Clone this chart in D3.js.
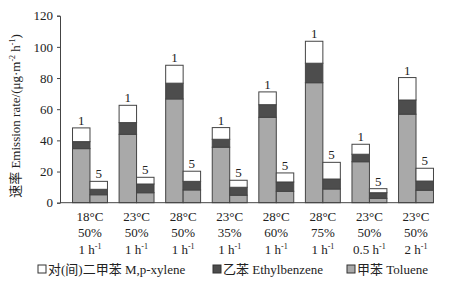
<!DOCTYPE html>
<html>
<head>
<meta charset="utf-8">
<script src="https://cdn.jsdelivr.net/npm/d3@7"></script>
<style>
  body { margin: 0; background: #fff; }
  text { font-family: "Liberation Serif", "Noto Sans CJK SC", serif; fill: #222; }
</style>
</head>
<body>
<div id="chart"></div>
<script>

// conditions (temperature / humidity / air change rate)
var temps = ["18°C", "23°C", "28°C", "23°C", "28°C", "28°C", "23°C", "23°C"];
var humid = ["50%", "50%", "50%", "35%", "60%", "75%", "50%", "50%"];
var ach   = ["1", "1", "1", "1", "1", "1", "0.5", "2"];
var dayLabels = ["1", "5"];

// emission rates, day 1
var toluene1 = [34.7, 43.9, 66.6, 35.6, 54.8, 77.0, 26.3, 56.8];
var ethyl1   = [4.5, 7.5, 10.1, 5.1, 8.1, 12.5, 4.8, 9.1];
var xylene1  = [8.8, 11.1, 11.5, 7.5, 8.2, 14.1, 6.4, 14.4];
// emission rates, day 5
var toluene5 = [5.1, 6.4, 8.2, 4.8, 7.3, 8.8, 2.8, 8.0];
var ethyl5   = [3.5, 5.6, 5.5, 5.1, 6.0, 6.4, 3.6, 5.9];
var xylene5  = [5.1, 4.3, 6.5, 4.5, 5.8, 10.7, 2.6, 8.2];

var yTicks = [0, 20, 40, 60, 80, 100, 120];
var keys = ["toluene", "ethyl", "xylene"];
var colors = { toluene: "#a9a9a9", ethyl: "#4d4d4d", xylene: "#ffffff" };

var data = [];
for (var i = 0; i < temps.length; i++) {
  data.push({ g: i, day: "1", toluene: toluene1[i], ethyl: ethyl1[i], xylene: xylene1[i] });
  data.push({ g: i, day: "5", toluene: toluene5[i], ethyl: ethyl5[i], xylene: xylene5[i] });
}

var width = 455, height = 291;
var svg = d3.select("#chart").append("svg")
  .attr("width", width)
  .attr("height", height);

var x0 = d3.scaleBand()
  .domain(d3.range(temps.length))
  .range([66.7, 439.3])
  .paddingInner(0.25)
  .paddingOuter(0.125);
var x1 = d3.scaleBand()
  .domain(dayLabels)
  .range([0, x0.bandwidth()]);
var y = d3.scaleLinear()
  .domain([0, 120])
  .range([202.7, 15.7]);

var stack = d3.stack().keys(keys);
var series = stack(data);

svg.selectAll("g.layer")
  .data(series)
  .enter().append("g")
  .attr("class", "layer")
  .attr("fill", function(d) { return colors[d.key]; })
  .selectAll("rect")
  .data(function(d) { return d; })
  .enter().append("rect")
  .attr("x", function(d) { return x0(d.data.g) + x1(d.data.day); })
  .attr("width", x1.bandwidth())
  .attr("y", function(d) { return y(d[1]); })
  .attr("height", function(d) { return y(d[0]) - y(d[1]); })
  .attr("stroke", "#444")
  .attr("stroke-width", 1);

// day labels above bars
svg.selectAll("text.daylab")
  .data(data)
  .enter().append("text")
  .attr("class", "daylab")
  .attr("x", function(d) { return x0(d.g) + x1(d.day) + x1.bandwidth() / 2; })
  .attr("y", function(d) { return y(d.toluene + d.ethyl + d.xylene) - 3; })
  .attr("text-anchor", "middle")
  .style("font-size", "13px")
  .text(function(d) { return d.day; });

// y axis
var yAxis = d3.axisLeft(y).tickValues(yTicks).tickSize(3).tickPadding(4);
var yg = svg.append("g")
  .attr("transform", "translate(60,0)")
  .call(yAxis);
yg.selectAll("path, line").attr("stroke", "#444");
yg.selectAll("text").style("font-size", "13px").style("font-family", "Liberation Serif");

// x baseline
svg.append("line")
  .attr("x1", 60).attr("x2", x0(temps.length - 1) + x0.bandwidth())
  .attr("y1", y(0)).attr("y2", y(0))
  .attr("stroke", "#444");

// x labels (three rows)
var xl = svg.selectAll("g.xlab")
  .data(temps)
  .enter().append("g")
  .attr("class", "xlab")
  .attr("transform", function(d, i) { return "translate(" + (x0(i) + x0.bandwidth() / 2) + ",0)"; });
xl.append("text").attr("y", 221).attr("text-anchor", "middle").style("font-size", "13px")
  .text(function(d) { return d; });
xl.append("text").attr("y", 237).attr("text-anchor", "middle").style("font-size", "13px")
  .text(function(d, i) { return humid[i]; });
var r3 = xl.append("text").attr("y", 254).attr("text-anchor", "middle").style("font-size", "13px");
r3.append("tspan").text(function(d, i) { return ach[i] + " h"; });
r3.append("tspan").attr("dy", -5).style("font-size", "8px").text("-1");

// y axis title
var yt = svg.append("text")
  .attr("transform", "translate(20,116) rotate(-90)")
  .attr("text-anchor", "middle")
  .style("font-size", "13px");
yt.append("tspan").text("速率 Emission rate/(μg·m");
yt.append("tspan").attr("dy", -5).style("font-size", "8px").text("-2");
yt.append("tspan").attr("dy", 5).text(" h");
yt.append("tspan").attr("dy", -5).style("font-size", "8px").text("-1");
yt.append("tspan").attr("dy", 5).text(")");

// legend
var legendItems = [
  { key: "xylene", label: "对(间)二甲苯 M,p-xylene", x: 38 },
  { key: "ethyl", label: "乙苯 Ethylbenzene", x: 213 },
  { key: "toluene", label: "甲苯 Toluene", x: 347 }
];
var lg = svg.selectAll("g.legend")
  .data(legendItems)
  .enter().append("g")
  .attr("class", "legend")
  .attr("transform", function(d) { return "translate(" + d.x + ",269)"; });
lg.append("rect")
  .attr("x", 0).attr("y", -4).attr("width", 8).attr("height", 8)
  .attr("fill", function(d) { return colors[d.key]; })
  .attr("stroke", "#333");
lg.append("text")
  .attr("x", 10).attr("y", 4.5)
  .style("font-size", "13px")
  .text(function(d) { return d.label; });

</script>
</body>
</html>
